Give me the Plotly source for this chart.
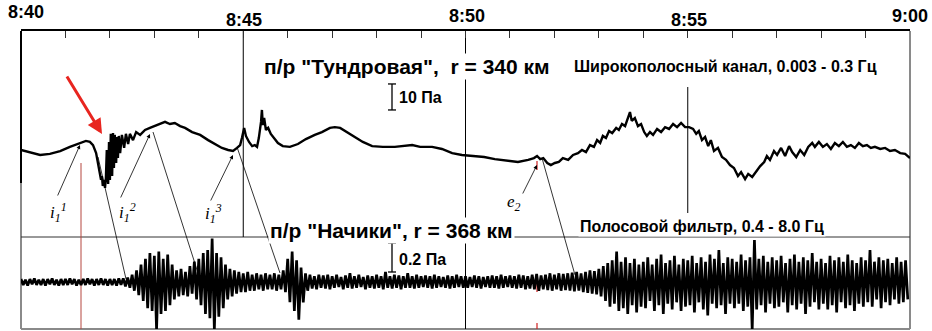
import numpy as np
import plotly.graph_objects as go

# ---------------- data ----------------
# time axis: minutes after 8:40
tick_minutes = [0, 5, 10, 15, 20]
tick_labels = ["8:40", "8:45", "8:50", "8:55", "9:00"]

# Upper trace: "Тундровая", broadband channel, pressure (Pa, relative)
t_up = [0.00,0.20,0.43,0.65,0.88,1.10,1.33,1.46,1.55,1.62,
        1.69,1.73,1.78,1.80,1.82,1.84,1.87,1.89,1.91,1.93,
        1.96,1.98,2.00,2.02,2.05,2.07,2.09,2.11,2.14,2.16,
        2.18,2.20,2.23,2.27,2.32,2.36,2.41,2.45,2.52,2.59,
        2.68,2.79,2.90,3.01,3.13,3.24,3.35,3.46,3.58,3.69,
        3.85,4.03,4.21,4.36,4.52,4.66,4.77,4.86,4.93,4.97,
        5.02,5.06,5.13,5.20,5.26,5.31,5.35,5.40,5.42,5.44,
        5.47,5.51,5.56,5.62,5.69,5.78,5.89,6.05,6.23,6.41,
        6.61,6.77,6.95,7.06,7.18,7.33,7.51,7.69,7.90,8.14,
        8.41,8.64,8.80,8.98,9.25,9.47,9.70,9.92,10.15,10.42,
        10.66,10.93,11.18,11.41,11.54,11.61,11.68,11.75,11.84,11.92,
        12.01,12.10,12.19,12.31,12.42,12.53,12.62,12.71,12.80,12.89,
        12.96,13.03,13.09,13.16,13.23,13.30,13.39,13.45,13.52,13.59,
        13.65,13.70,13.74,13.81,13.88,13.95,14.02,14.08,14.15,14.22,
        14.31,14.40,14.49,14.58,14.67,14.76,14.85,14.94,15.03,15.12,
        15.19,15.25,15.32,15.39,15.46,15.52,15.59,15.68,15.77,15.86,
        15.95,16.04,16.13,16.20,16.29,16.36,16.45,16.54,16.63,16.72,
        16.78,16.85,16.94,17.01,17.10,17.19,17.28,17.35,17.44,17.53,
        17.62,17.71,17.80,17.86,17.95,18.04,18.13,18.22,18.31,18.40,
        18.49,18.58,18.67,18.76,18.85,18.94,19.03,19.12,19.21,19.33,
        19.44,19.55,19.66,19.78,19.89,20.00]
p_up = [0.0,-0.8,-1.9,-1.5,-0.4,1.2,2.7,3.5,3.1,1.9,
        -1.2,-5.0,-8.5,-11.5,-10.0,-13.8,-11.5,-14.6,-10.8,0.0,
        -13.1,3.1,-11.5,6.2,-10.0,6.5,-6.9,5.8,-5.0,5.0,
        -3.1,5.4,-1.2,5.8,0.8,6.2,2.3,6.2,3.8,6.9,
        5.8,7.7,8.5,9.2,10.0,10.8,10.0,10.4,9.2,8.5,
        6.9,5.8,3.8,2.3,0.8,0.0,-0.4,0.8,1.9,4.6,
        8.5,5.4,3.1,1.5,1.9,1.2,4.6,10.8,15.4,9.6,
        12.3,7.7,8.5,6.2,4.6,2.7,1.5,1.2,2.3,4.2,
        5.8,6.9,8.5,8.8,8.5,6.9,5.0,3.1,1.5,1.2,
        1.2,1.5,1.9,1.2,1.2,0.4,-1.2,-1.9,-2.3,-2.7,
        -3.5,-4.2,-4.6,-3.8,-3.1,-2.3,-3.5,-3.1,-5.0,-5.8,
        -5.0,-4.6,-3.1,-3.8,-1.9,-1.2,0.0,-0.8,1.9,1.2,
        3.8,2.7,5.4,4.6,7.3,6.5,8.5,7.7,10.0,9.2,
        12.3,14.6,11.2,12.3,9.2,10.0,6.9,5.4,6.9,5.8,
        8.1,6.9,8.8,8.1,10.0,8.8,10.4,8.8,8.8,8.1,
        6.2,7.3,3.8,5.0,1.5,3.8,-0.4,0.8,-2.7,-3.8,
        -5.8,-6.9,-10.0,-8.5,-11.2,-9.2,-10.4,-8.1,-6.2,-4.6,
        -2.3,-3.8,-0.4,-1.9,0.8,-2.3,1.5,-0.8,-2.7,0.0,
        -1.9,1.2,2.7,1.2,3.1,1.2,2.3,0.4,2.7,1.5,
        3.1,1.2,1.9,0.8,2.7,1.5,1.9,0.8,1.2,0.4,
        0.8,-0.4,0.0,-1.2,-1.5,-3.1]

# Lower trace: "Начики", band-pass 0.4-8 Hz, envelope (Pa) every 0.1 min
t_low = list(np.round(np.arange(0, 20, 0.1), 2))
top_low = [.02,.015,.02,.025,.015,.02,.02,.025,.015,.02,
           .02,.025,.02,.015,.02,.025,.02,.02,.025,.02,
           .02,.02,.025,.025,.03,.05,.08,.12,.16,.20,
           .18,.21,.16,.19,.12,.08,.09,.07,.11,.14,
           .16,.20,.22,.30,.20,.17,.12,.09,.08,.07,
           .06,.07,.05,.06,.05,.06,.05,.06,.05,.08,
           .16,.21,.15,.10,.06,.05,.04,.05,.045,.05,
           .04,.05,.035,.045,.06,.04,.05,.035,.045,.04,
           .05,.04,.07,.04,.05,.045,.04,.06,.04,.05,
           .04,.045,.04,.05,.04,.035,.045,.04,.05,.04,
           .04,.035,.045,.04,.035,.04,.045,.04,.05,.04,
           .045,.04,.05,.045,.04,.05,.055,.045,.05,.06,
           .05,.06,.055,.06,.065,.07,.06,.07,.08,.075,
           .09,.11,.13,.15,.21,.14,.17,.13,.16,.12,
           .14,.17,.12,.16,.19,.13,.15,.18,.12,.16,
           .15,.18,.13,.17,.14,.19,.16,.22,.13,.17,
           .16,.14,.19,.15,.17,.29,.16,.18,.14,.17,
           .15,.18,.13,.16,.19,.14,.17,.15,.20,.14,
           .16,.13,.18,.15,.17,.14,.19,.15,.13,.17,
           .15,.22,.14,.17,.15,.16,.13,.17,.14,.15]
bot_low = [-.02,-.025,-.015,-.02,-.02,-.025,-.015,-.02,-.025,-.02,
           -.02,-.015,-.025,-.02,-.02,-.015,-.025,-.02,-.02,-.025,
           -.02,-.025,-.02,-.03,-.04,-.06,-.09,-.13,-.18,-.20,
           -.33,-.22,-.20,-.16,-.12,-.10,-.09,-.10,-.08,-.12,
           -.16,-.22,-.25,-.33,-.24,-.18,-.12,-.10,-.08,-.07,
           -.07,-.06,-.06,-.05,-.06,-.05,-.05,-.06,-.05,-.07,
           -.14,-.20,-.26,-.14,-.06,-.045,-.05,-.04,-.045,-.05,
           -.04,-.035,-.05,-.04,-.045,-.04,-.035,-.05,-.04,-.045,
           -.04,-.05,-.04,-.045,-.04,-.05,-.04,-.04,-.045,-.04,
           -.035,-.04,-.045,-.04,-.035,-.04,-.045,-.04,-.035,-.04,
           -.04,-.035,-.04,-.045,-.035,-.04,-.04,-.045,-.04,-.035,
           -.04,-.045,-.04,-.05,-.045,-.05,-.06,-.05,-.055,-.06,
           -.05,-.06,-.055,-.06,-.065,-.06,-.07,-.075,-.08,-.085,
           -.10,-.13,-.17,-.15,-.20,-.18,-.22,-.16,-.21,-.17,
           -.18,-.13,-.20,-.16,-.22,-.15,-.19,-.14,-.20,-.17,
           -.16,-.21,-.14,-.19,-.23,-.15,-.18,-.16,-.22,-.15,
           -.18,-.15,-.20,-.17,-.33,-.19,-.16,-.21,-.15,-.18,
           -.17,-.14,-.21,-.16,-.19,-.15,-.22,-.17,-.14,-.19,
           -.15,-.19,-.16,-.21,-.14,-.18,-.16,-.20,-.15,-.17,
           -.14,-.17,-.12,-.18,-.14,-.16,-.12,-.15,-.14,-.12]

scale_up_pa = 10
scale_low_pa = 0.2

# ---------------- layout geometry ----------------
W, H = 932, 331
L, R, T, B = 21, 22, 31, 2
PW, PH = W - L - R, H - T - B


def px(x):
    return (x - L) / PW


def py(y):
    return (H - B - y) / PH


split = py(237)
UP_RANGE = [(150 - 237) / 2.6, (150 - 31) / 2.6]
LOW_RANGE = [(282 - 329) / 145.0, (282 - 237) / 145.0]

fig = go.Figure()

fig.add_trace(go.Scatter(x=t_up, y=p_up, mode="lines", xaxis="x", yaxis="y",
                         line=dict(color="black", width=2.4), hoverinfo="skip",
                         showlegend=False))

half = 0.05
zx, zy = [], []
for t, a, b in zip(t_low, top_low, bot_low):
    zx += [t, t + half]
    zy += [a, b]
fig.add_trace(go.Scatter(x=zx, y=zy, mode="lines", xaxis="x", yaxis="y2",
                         line=dict(color="black", width=2.7), hoverinfo="skip",
                         showlegend=False))

shapes = []


def pline(x0, y0, x1, y1, color="black", width=1, dash=None):
    d = dict(type="line", xref="paper", yref="paper", x0=px(x0), y0=py(y0),
             x1=px(x1), y1=py(y1), line=dict(color=color, width=width), layer="below")
    if dash:
        d["line"]["dash"] = dash
    shapes.append(d)


# frame
pline(21, 329, 910, 329, "#8a8a8a", 2)
pline(910, 31, 910, 329, "#8a8a8a", 2)
pline(21, 183, 21, 329, "#8a8a8a", 2)
pline(21, 31, 21, 183, "black", 2)
pline(21, 237, 910, 237, "#333", 1)
# grid lines at 8:45, 8:50, 8:55
shapes.append(dict(type="line", xref="x", yref="paper", x0=5, x1=5, y0=py(237), y1=1,
                   line=dict(color="black", width=1), layer="below"))
shapes.append(dict(type="line", xref="x", yref="paper", x0=10, x1=10, y0=0, y1=1,
                   line=dict(color="black", width=1), layer="below"))
shapes.append(dict(type="line", xref="x", yref="paper", x0=15, x1=15, y0=py(213), y1=py(87),
                   line=dict(color="black", width=1), layer="below"))
# red onset line and e2 marks
pline(81, 163, 81, 329, "#b5463f", 1)
pline(537, 161, 537, 170, "#d02020", 1.2)
pline(537, 277, 537, 292, "#d02020", 1.2)
pline(537, 323, 537, 329, "#d02020", 1.2)
# connecting lines between records
pline(98, 157, 126, 279, "black", 0.8)
pline(153, 132, 198, 273, "black", 0.8)
pline(237, 147, 280, 273, "black", 0.8)
pline(542, 158, 575, 275, "black", 0.8)

# scale bars
tb = (392 - L) / (PW / 20)
cap = 0.09
for yref, v0, v in (("y", 15.4, scale_up_pa), ("y2", 0.069, scale_low_pa)):
    shapes.append(dict(type="line", xref="x", yref=yref, x0=tb, x1=tb, y0=v0, y1=v0 + v,
                       line=dict(color="black", width=1.3)))
    for yy in (v0, v0 + v):
        shapes.append(dict(type="line", xref="x", yref=yref, x0=tb - cap, x1=tb + cap,
                           y0=yy, y1=yy, line=dict(color="black", width=1.3)))

ann = []
NARROW = "Liberation Sans Narrow, Arial Narrow, Liberation Sans, Arial, sans-serif"


def text(x, y, s, size, xanchor="left", bg=None, family=NARROW, weight="bold",
         style="normal", color="black"):
    d = dict(x=px(x), y=py(y), xref="paper", yref="paper", text=s, showarrow=False,
             xanchor=xanchor, yanchor="middle",
             font=dict(family=family, size=size, color=color, weight=weight, style=style))
    if bg:
        d["bgcolor"] = bg
        d["borderpad"] = 1
    ann.append(d)


# time tick labels (staggered like the original)
tick_px = [(26, 12, "center"), (244, 20, "center"), (467, 16, "center"),
           (689, 20, "center"), (930, 16, "right")]
for (x, y, anc), lab in zip(tick_px, tick_labels):
    text(x, y, lab, 18, anc)

text(262, 66, "п/р \"Тундровая\",\u00a0\u00a0r = 340 км", 21, bg="white")
text(572, 66, "Широкополосный канал, 0.003 - 0.3 Гц", 16, bg="white")
text(397, 97, "10 Па", 16)
text(268, 231, "п/р \"Начики\", r = 368 км", 21, bg="white")
text(578, 227, "Полосовой фильтр, 0.4 - 8.0 Гц", 16, bg="white")
text(397, 259, "0.2 Па", 16)

SERIF = "Liberation Serif, DejaVu Serif, serif"
for x, y, s in ((58, 212, "i<sub>1</sub><sup>1</sup>"), (127, 212, "i<sub>1</sub><sup>2</sup>"),
                (213, 213, "i<sub>1</sub><sup>3</sup>"), (514, 203, "e<sub>2</sub>")):
    text(x, y, s, 17, "center", family=SERIF, weight="normal", style="italic")


def arrow(hx, hy, tx, ty, color="black", width=0.8, head=2, size=1.0):
    ann.append(dict(x=px(hx), y=py(hy), xref="paper", yref="paper", text="",
                    showarrow=True, ax=tx - hx, ay=ty - hy, axref="pixel", ayref="pixel",
                    arrowcolor=color, arrowwidth=width, arrowhead=head, arrowsize=size,
                    standoff=0, startstandoff=0))


arrow(80, 145, 57, 197)
arrow(150, 134, 120, 199)
arrow(233, 155, 210, 202)
arrow(537, 165, 522, 195)
arrow(102, 134, 66, 75, color="#e8251f", width=3, head=2, size=1.0)

fig.update_layout(
    width=W, height=H,
    margin=dict(l=L, r=R, t=T, b=B, pad=0),
    paper_bgcolor="white", plot_bgcolor="white",
    xaxis=dict(range=[0, 20], domain=[0, 1], anchor="y", side="top", showline=True,
               linecolor="black", linewidth=1.5, ticks="inside", ticklen=7, tickwidth=1.2,
               tickcolor="#333", tick0=0, dtick=1, showticklabels=False, showgrid=False,
               zeroline=False, fixedrange=True),
    yaxis=dict(domain=[split, 1], range=UP_RANGE, visible=False, fixedrange=True),
    yaxis2=dict(domain=[0, split], range=LOW_RANGE, visible=False, fixedrange=True,
                anchor="x"),
    shapes=shapes, annotations=ann, showlegend=False,
)

fig.write_html("out.html")
